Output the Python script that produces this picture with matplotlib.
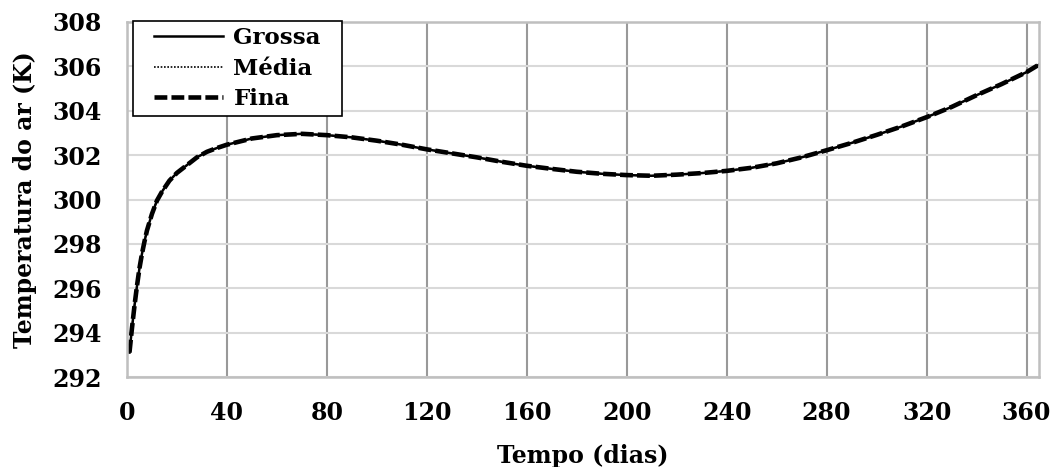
import matplotlib.pyplot as plt
from matplotlib.patches import Rectangle
from matplotlib.ticker import MultipleLocator

# tempo em dias e temperatura do ar (K) para cada malha
dias = [1, 2, 3, 4, 5, 6, 7, 8, 10, 12, 14, 17, 20, 24, 28, 32, 36, 40,
        50, 60, 70, 80, 90, 100, 110, 120, 130, 140, 150, 160, 170, 180,
        190, 200, 210, 220, 230, 240, 250, 260, 270, 280, 290, 300, 310,
        320, 330, 340, 350, 360, 365]

temp_grossa = [293.10, 294.20, 295.20, 296.10, 296.90, 297.55, 298.10, 298.60,
               299.35, 299.95, 300.35, 300.85, 301.20, 301.55, 301.90, 302.15,
               302.32, 302.47, 302.75, 302.90, 302.96, 302.90, 302.80, 302.65,
               302.47, 302.26, 302.08, 301.90, 301.70, 301.52, 301.38, 301.25,
               301.16, 301.10, 301.07, 301.12, 301.19, 301.29, 301.43, 301.63,
               301.90, 302.22, 302.55, 302.91, 303.29, 303.71, 304.17, 304.70,
               305.20, 305.74, 306.08]

temp_media = [293.10, 294.20, 295.20, 296.10, 296.90, 297.55, 298.10, 298.60,
              299.35, 299.95, 300.35, 300.85, 301.20, 301.55, 301.90, 302.15,
              302.32, 302.47, 302.75, 302.90, 302.96, 302.90, 302.80, 302.65,
              302.47, 302.26, 302.08, 301.90, 301.70, 301.52, 301.38, 301.25,
              301.16, 301.10, 301.07, 301.12, 301.19, 301.29, 301.43, 301.63,
              301.90, 302.22, 302.55, 302.91, 303.29, 303.71, 304.17, 304.70,
              305.20, 305.74, 306.08]

temp_fina = [293.10, 294.20, 295.20, 296.10, 296.90, 297.55, 298.10, 298.60,
             299.35, 299.95, 300.35, 300.85, 301.20, 301.55, 301.90, 302.15,
             302.32, 302.47, 302.75, 302.90, 302.96, 302.90, 302.80, 302.65,
             302.47, 302.26, 302.08, 301.90, 301.70, 301.52, 301.38, 301.25,
             301.16, 301.10, 301.07, 301.12, 301.19, 301.29, 301.43, 301.63,
             301.90, 302.22, 302.55, 302.91, 303.29, 303.71, 304.17, 304.70,
             305.20, 305.74, 306.08]

plt.rcParams['font.family'] = 'DejaVu Serif'
plt.rcParams['font.weight'] = 'bold'
plt.rcParams['font.size'] = 17

fig = plt.figure(figsize=(10.51, 4.67), dpi=100)
ax = fig.add_axes([0.1208, 0.1927, 0.8678, 0.7602])

ax.plot(dias, temp_grossa, color='black', lw=1.8, ls='-', label='Grossa')
ax.plot(dias, temp_media, color='black', lw=1.2, ls=(0, (1, 1)), label='Média')
ax.plot(dias, temp_fina, color='black', lw=3.3, ls=(0, (2.8, 0.9)), label='Fina')

ax.set_xlim(0, 365)
ax.set_ylim(292, 308)
ax.xaxis.set_major_locator(MultipleLocator(40))
ax.yaxis.set_major_locator(MultipleLocator(2))

# grade vertical mais escura, horizontal clara
ax.grid(axis='x', color='#999999', lw=1.5)
ax.grid(axis='y', color='#d9d9d9', lw=1.5)
ax.set_axisbelow(True)
for s in ax.spines.values():
    s.set_color('#bfbfbf')
    s.set_linewidth(1.8)

ax.tick_params(axis='x', length=0, pad=17)
ax.tick_params(axis='y', length=0, pad=18)
for t in ax.get_xticklabels() + ax.get_yticklabels():
    t.set_fontweight('bold')

ax.set_xlabel('Tempo (dias)', fontweight='bold', labelpad=14)
ax.set_ylabel('Temperatura do ar (K)', fontweight='bold', labelpad=11)

leg = ax.legend(loc='upper left', bbox_to_anchor=(0.030, 0.985), frameon=False,
                fontsize=16.5, handlelength=3.0, handletextpad=0.45,
                borderpad=0.0, labelspacing=0.36, borderaxespad=0)
leg.set_zorder(6)
for t in leg.get_texts():
    t.set_fontweight('bold')

# moldura da legenda com folga maior nas laterais
fig.canvas.draw()
bb = leg.get_window_extent()
padx, pady = 21, 6
(x0, y0), (x1, y1) = ax.transAxes.inverted().transform(
    [(bb.x0 - padx, bb.y0 - pady), (bb.x1 + padx, bb.y1 + pady)])
ax.add_patch(Rectangle((x0, y0), x1 - x0, y1 - y0, transform=ax.transAxes,
                       facecolor='white', edgecolor='black', lw=1.2,
                       zorder=5, clip_on=False))

fig.savefig('out.png', dpi=100)
